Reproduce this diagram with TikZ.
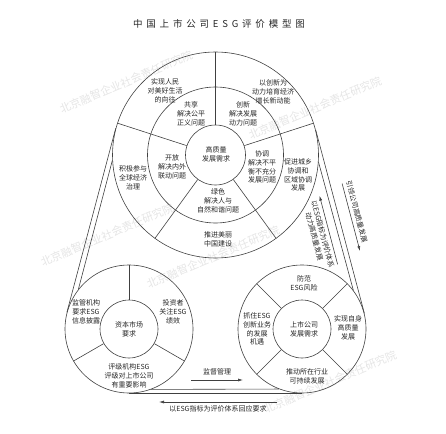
\documentclass[tikz,border=0pt]{standalone}
\usepackage{fontspec}
\setmainfont{Noto Sans CJK SC}
\usetikzlibrary{arrows.meta}

\begin{document}
\begin{tikzpicture}[x=1pt,y=-1pt]
\tikzset{>={Latex[width=3pt,length=5pt]}}
\tikzstyle{ring}=[circle,draw=black!75,line width=0.6pt,inner sep=0pt]
\tikzstyle{belt}=[draw=black!75,line width=0.6pt]
\tikzstyle{txt}=[align=center,font=\fontsize{7}{8.8}\selectfont,text=black!85,inner sep=0pt]
\tikzstyle{wm}=[font=\fontsize{11}{12}\selectfont,text=black!10,rotate=23,inner sep=0pt]

\useasboundingbox (0,0) rectangle (446,433);

% watermarks
\node[wm] (w1) at (126,82) {北京融智企业社会责任研究院};
\node[wm] (w2) at (315,108) {北京融智企业社会责任研究院};
\node[wm] (w3) at (107,235) {北京融智企业社会责任研究院};
\node[wm] (w4) at (213,257) {北京融智企业社会责任研究院};
\node[wm] (w5) at (330,382) {北京融智企业社会责任研究院};

\node[font=\fontsize{9.5}{11}\selectfont\addfontfeature{LetterSpace=40},text=black!85] (title) at (219,24) {中国上市公司ESG评价模型图};

% the three wheels
\node[ring,minimum size=206](o1) at (215.5,155){};
\node[ring,minimum size=136](m1) at (215.5,155){};
\node[ring,minimum size=60](i1) at (215.5,155){};
\node[ring,minimum size=128](o2) at (129,329){};
\node[ring,minimum size=58](i2) at (129,329){};
\node[ring,minimum size=128](o3) at (302,329){};
\node[ring,minimum size=58](i3) at (302,329){};

\foreach \a in {18,90,162,234,306} \draw[belt] (i1.\a) -- (o1.\a);
\foreach \a in {90,210,330} \draw[belt] (i2.\a) -- (o2.\a);
\foreach \a in {45,135,225,315} \draw[belt] (i3.\a) -- (o3.\a);

% belt
\draw[belt] (o1.165.14) -- (o2.165.14);
\draw[belt] (o1.183.08) -- (o2.142.35);
\draw[belt] (o1.14.86) -- (o3.14.86);
\draw[belt] (o1.356.92) -- (o3.37.65);
\draw[belt] (o2.270) -- (o3.270);
\draw[belt] (o2.290.36) -- (o3.249.64);

% top wheel
\node[txt](c1) at (216,154){高质量\\发展需求};
\node[txt](b1) at (191,114){共享\\解决公平\\正义问题};
\node[txt](b2) at (243,114){创新\\解决发展\\动力问题};
\node[txt](b3) at (262,167){协调\\解决不平\\衡不充分\\发展问题};
\node[txt](b4) at (218,201){绿色\\解决人与\\自然和谐问题};
\node[txt](b5) at (172,167){开放\\解决内外\\联动问题};
\node[txt](a1) at (165,91){实现人民\\对美好生活\\的向往};
\node[txt](a2) at (273,92){以创新为\\动力培育经济\\增长新动能};
\node[txt](a3) at (298,175){促进城乡\\协调和\\区域协调\\发展};
\node[txt](a4) at (218,239){推进美丽\\中国建设};
\node[txt](a5) at (133,178){积极参与\\全球经济\\治理};

% bottom left wheel
\node[txt](c2) at (129,329){资本市场\\要求};
\node[txt](e1) at (86,312){监管机构\\要求ESG\\信息披露};
\node[txt](e2) at (173,312){投资者\\关注ESG\\绩效};
\node[txt](e3) at (129,376){评级机构ESG\\评级对上市公司\\有重要影响};

% bottom right wheel
\node[txt](c3) at (304,329){上市公司\\发展需求};
\node[txt](f1) at (304,283){防范\\ESG风险};
\node[txt](f2) at (348,328){实现自身\\高质量\\发展};
\node[txt](f3) at (307,376){推动所在行业\\可持续发展};
\node[txt](f4) at (257,329){抓住ESG\\创新业务\\的发展\\机遇};

% arrows along the belt
\coordinate (u1) at (337.6,264.3);
\coordinate (u2) at (319.5,195.7);
\coordinate (d1) at (342.1,183.5);
\coordinate (d2) at (360.0,251.1);
\coordinate (s1) at (191,380);
\coordinate (s2) at (243,380);
\coordinate (r1) at (277,402);
\coordinate (r2) at (159,402);
\draw[->,belt] (u1) -- (u2);
\draw[->,belt] (d1) -- (d2);
\draw[->,belt] (s1) -- (s2);
\draw[->,belt] (r1) -- (r2);

\node[txt,rotate=-75](l1) at (318.6,235.3){以ESG指标为评价体系\\动力高质量发展};
\node[txt,rotate=-75](l2) at (356.8,211.7){引领公司高质量发展};
\node[txt](l3) at (217,372){监督管理};
\node[txt](l4) at (218,409){以ESG指标为评价体系回应要求};
\end{tikzpicture}
\end{document}
